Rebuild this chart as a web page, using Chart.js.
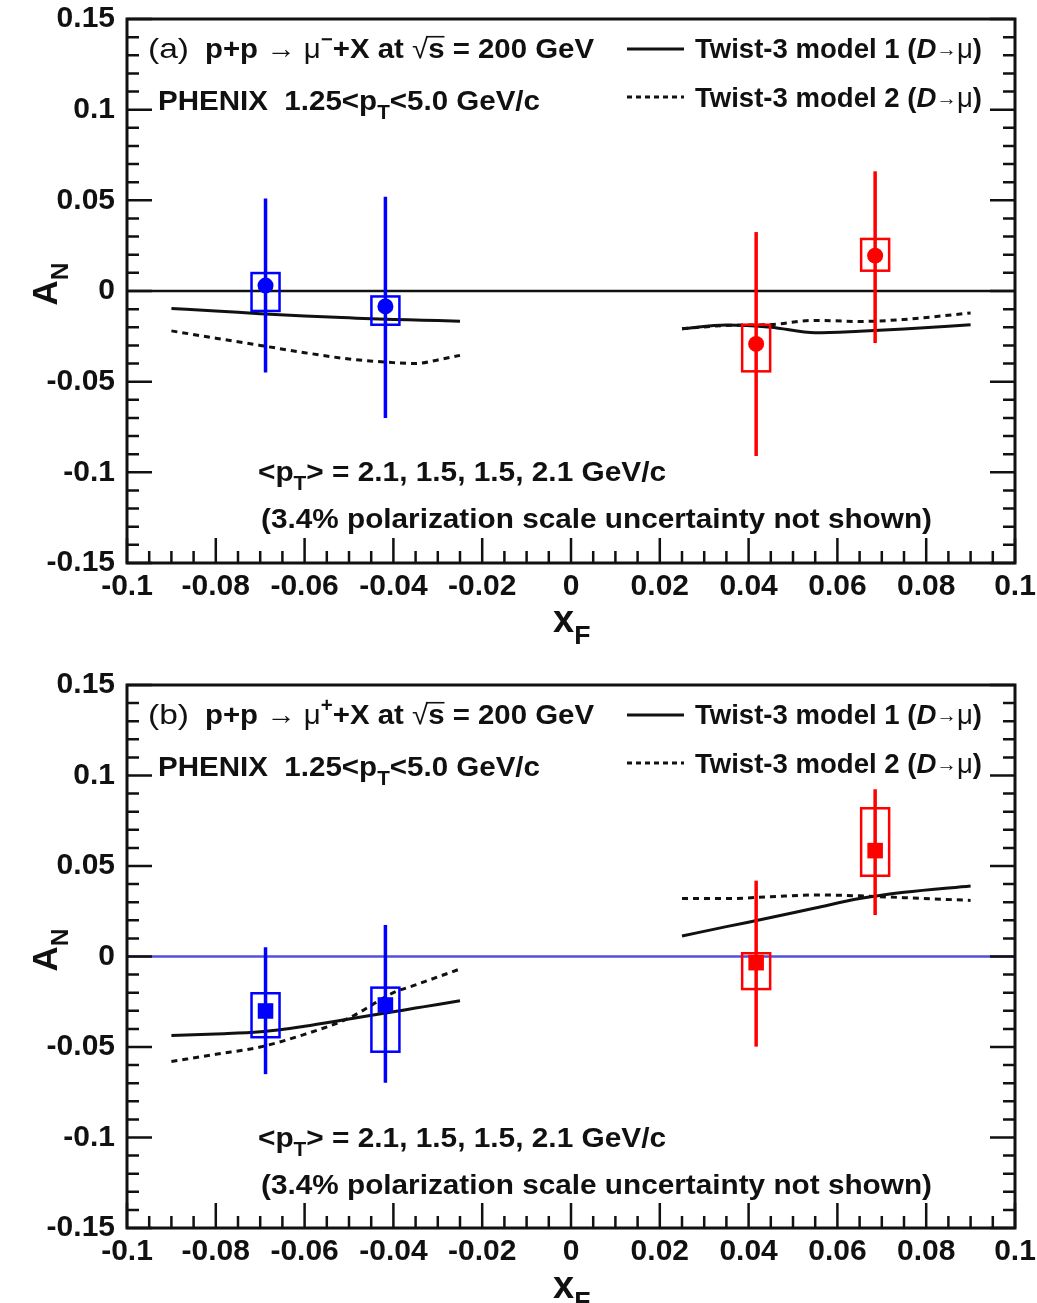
<!DOCTYPE html>
<html>
<head>
<meta charset="utf-8">
<script src="https://cdn.jsdelivr.net/npm/chart.js@4/dist/chart.umd.min.js"></script>
<style>
  body { margin: 0; background: #fff; }
  .panel { position: absolute; left: 0; width: 1037px; }
</style>
</head>
<body>
<div class="panel" style="top:0;height:650px"><canvas id="chartA"></canvas></div>
<div class="panel" style="top:650px;height:653px"><canvas id="chartB"></canvas></div>
<script>
// x_F of the four measured points (two backward, two forward)
const pointX = [-0.0688, -0.0418, 0.0417, 0.0685];
const pointColors = ['#0000ff', '#0000ff', '#ff0000', '#ff0000'];

// panel (a): p+p -> mu- + X
const aValues   = [0.003, -0.0085, -0.0292, 0.0195];
const aStatLow  = [-0.045, -0.070, -0.091, -0.0287];
const aStatHigh = [0.051, 0.052, 0.0325, 0.066];
const aSysLow   = [-0.011, -0.0186, -0.0443, 0.0112];
const aSysHigh  = [0.0099, -0.003, -0.0186, 0.0287];

// panel (b): p+p -> mu+ + X
const bValues   = [-0.0301, -0.0268, -0.0034, 0.0585];
const bStatLow  = [-0.065, -0.0697, -0.0498, 0.0229];
const bStatHigh = [0.0051, 0.0174, 0.0419, 0.0924];
const bSysLow   = [-0.0446, -0.0526, -0.018, 0.0446];
const bSysHigh  = [-0.0203, -0.0172, 0.0018, 0.0819];

// twist-3 model curves
const modelXLeft  = [-0.09, -0.08, -0.07, -0.06, -0.05, -0.04, -0.035, -0.03, -0.025];
const modelXRight = [0.025, 0.035, 0.045, 0.055, 0.065, 0.075, 0.09];

const aModel1Left  = [-0.0097, -0.011, -0.0125, -0.0138, -0.0148, -0.0157, -0.016, -0.0163, -0.0167];
const aModel2Left  = [-0.022, -0.026, -0.030, -0.034, -0.0375, -0.0395, -0.040, -0.038, -0.0355];
const aModel1Right = [-0.0208, -0.0188, -0.020, -0.023, -0.0222, -0.021, -0.0186];
const aModel2Right = [-0.0208, -0.019, -0.0185, -0.0162, -0.0168, -0.0157, -0.0121];

const bModel1Left  = [-0.0437, -0.0428, -0.0416, -0.0385, -0.0345, -0.0305, -0.0285, -0.0265, -0.0244];
const bModel2Left  = [-0.058, -0.054, -0.050, -0.043, -0.034, -0.020, -0.0157, -0.0113, -0.0069];
const bModel1Right = [0.0113, 0.0165, 0.0215, 0.0268, 0.032, 0.0355, 0.039];
const bModel2Right = [0.032, 0.032, 0.033, 0.034, 0.0335, 0.0325, 0.031];

const FONT = '"Liberation Sans", Arial, sans-serif';

function xy(xs, ys) {
    return xs.map((x, i) => ({ x: x, y: ys[i] }));
}

function fontFor(p, size) {
    let s = size * (p.sub || p.sup ? 0.7 : (p.scale || 1));
    return (p.it ? 'italic ' : '') + (p.w || 'bold') + ' ' + s + 'px ' + FONT;
}

// draws a line of text built from parts (sub/superscripts), squeezed to a given width
function drawRich(ctx, item, ox, oy) {
    let size = item.size;
    let total = 0;
    let widths = item.parts.map(p => {
        ctx.font = fontFor(p, size);
        let w = ctx.measureText(p.t).width;
        total += w;
        return w;
    });
    let sx = item.width ? item.width / total : 1;
    ctx.save();
    ctx.translate(ox, oy);
    if (item.rotate) ctx.rotate(item.rotate);
    ctx.scale(sx, 1);
    ctx.fillStyle = '#111';
    ctx.strokeStyle = '#111';
    ctx.textAlign = 'left';
    ctx.textBaseline = 'alphabetic';
    let x = item.center ? -total / 2 : 0;
    item.parts.forEach((p, i) => {
        ctx.font = fontFor(p, size);
        let y = p.raise ? -size * p.raise : 0;
        if (p.sub) y = size * 0.32;
        if (p.sup) y = -size * 0.42;
        ctx.fillText(p.t, x, y);
        if (p.over) {
            ctx.lineWidth = 1.6;
            ctx.beginPath();
            ctx.moveTo(x - 2, -size * 0.76);
            ctx.lineTo(x + widths[i], -size * 0.76);
            ctx.stroke();
        }
        x += widths[i];
    });
    ctx.restore();
}

function panelLabels(tag, charge) {
    // dy is measured from the top of the plot frame
    const model = n => [{ t: 'Twist-3 model ' + n + ' (' }, { t: 'D', it: true },
                        { t: '\u2192', w: 'normal', scale: 0.75, raise: 0.08 }, { t: '\u03bc', w: 'normal' }, { t: ')' }];
    return [
        { parts: [{ t: '(' + tag + ')', w: 'normal' }], x: 148, dy: 39, size: 28, width: 41 },
        { parts: [{ t: 'p+p ' }, { t: '\u2192', w: 'normal' }, { t: ' \u03bc', w: 'normal' }, { t: charge, sup: true },
                  { t: '+X at ' }, { t: '\u221a', w: 'normal' }, { t: 's', over: true }, { t: ' = 200 GeV' }],
          x: 205, dy: 39, size: 28, width: 389 },
        { parts: [{ t: 'PHENIX  1.25<p' }, { t: 'T', sub: true }, { t: '<5.0 GeV/c' }], x: 158, dy: 91, size: 28, width: 382 },
        { parts: model(1), x: 695, dy: 39, size: 27, width: 287 },
        { parts: model(2), x: 695, dy: 88, size: 27, width: 287 },
        { parts: [{ t: '<p' }, { t: 'T', sub: true }, { t: '> = 2.1, 1.5, 1.5, 2.1 GeV/c' }], x: 258, dy: 462, size: 28, width: 408 },
        { parts: [{ t: '(3.4% polarization scale uncertainty not shown)' }], x: 261, dy: 509, size: 28, width: 671 },
        { parts: [{ t: 'x' }, { t: 'F', sub: true }], x: 553, dy: 613, size: 38 },
        { parts: [{ t: 'A' }, { t: 'N', sub: true }], x: 57, dy: 265, size: 35, rotate: -Math.PI / 2, center: true }
    ];
}

// ROOT-like frame: inward ticks, error bars, systematic boxes, texts
const rootStyle = {
    id: 'rootStyle',
    afterDatasetsDraw(chart) {
        const ctx = chart.ctx;
        const xs = chart.scales.x, ys = chart.scales.y;
        const cfg = chart.options.plugins.rootStyle;
        ctx.save();
        cfg.values.forEach((v, i) => {
            let px = xs.getPixelForValue(pointX[i]);
            ctx.strokeStyle = pointColors[i];
            // systematic box
            ctx.lineWidth = 2.5;
            let top = ys.getPixelForValue(cfg.sysHigh[i]);
            let bot = ys.getPixelForValue(cfg.sysLow[i]);
            ctx.strokeRect(px - 14, top, 28, bot - top);
            // statistical bar
            ctx.lineWidth = 3.5;
            ctx.beginPath();
            ctx.moveTo(px, ys.getPixelForValue(cfg.statHigh[i]));
            ctx.lineTo(px, ys.getPixelForValue(cfg.statLow[i]));
            ctx.stroke();
        });
        ctx.restore();
    },
    afterDraw(chart) {
        const ctx = chart.ctx;
        const xs = chart.scales.x, ys = chart.scales.y;
        const { left, right, top, bottom } = chart.chartArea;
        const cfg = chart.options.plugins.rootStyle;
        ctx.save();
        ctx.strokeStyle = '#111';
        ctx.lineWidth = 2.5;
        ctx.beginPath();
        for (let k = 0; k <= 40; k++) {
            let px = xs.getPixelForValue(-0.1 + k * 0.005);
            let len = k % 4 === 0 ? 25 : 12;
            ctx.moveTo(px, bottom);
            ctx.lineTo(px, bottom - len);
        }
        for (let k = 0; k <= 30; k++) {
            let py = ys.getPixelForValue(-0.15 + k * 0.01);
            let len = k % 5 === 0 ? 25 : 12;
            ctx.moveTo(left, py);
            ctx.lineTo(left + len, py);
            ctx.moveTo(right, py);
            ctx.lineTo(right - len, py);
        }
        ctx.stroke();
        ctx.lineWidth = 3;
        ctx.strokeRect(left, top, right - left, bottom - top);

        // legend line samples
        ctx.lineWidth = 3;
        ctx.beginPath();
        ctx.moveTo(627, top + 30);
        ctx.lineTo(684, top + 30);
        ctx.stroke();
        ctx.setLineDash([5, 4]);
        ctx.beginPath();
        ctx.moveTo(627, top + 78);
        ctx.lineTo(684, top + 78);
        ctx.stroke();
        ctx.setLineDash([]);

        cfg.labels.forEach(item => drawRich(ctx, item, item.x, top + item.dy));
        ctx.restore();
    }
};

function buildChart(id, opts) {
    const tickFont = { family: FONT, size: 30, weight: 'bold' };
    const curve = (xsArr, ysArr, dashed) => ({
        type: 'line',
        data: xy(xsArr, ysArr),
        borderColor: '#111',
        borderWidth: 3,
        borderDash: dashed ? [6, 5] : [],
        pointRadius: 0,
        cubicInterpolationMode: 'monotone',
        order: 3
    });
    return new Chart(document.getElementById(id), {
        type: 'scatter',
        data: {
            datasets: [
                {
                    type: 'line',
                    data: [{ x: -0.1, y: 0 }, { x: 0.1, y: 0 }],
                    borderColor: opts.zeroColor,
                    borderWidth: 2.5,
                    pointRadius: 0,
                    order: 4
                },
                curve(modelXLeft, opts.m1L, false),
                curve(modelXRight, opts.m1R, false),
                curve(modelXLeft, opts.m2L, true),
                curve(modelXRight, opts.m2R, true),
                {
                    data: xy(pointX, opts.values),
                    pointStyle: opts.marker,
                    pointRadius: opts.markerRadius,
                    pointBackgroundColor: pointColors,
                    pointBorderWidth: 0,
                    order: 1
                }
            ]
        },
        options: {
            responsive: true,
            maintainAspectRatio: false,
            animation: false,
            events: [],
            layout: { padding: { left: 0, right: 22, top: opts.top, bottom: 0 } },
            plugins: {
                legend: { display: false },
                tooltip: { enabled: false },
                rootStyle: {
                    values: opts.values, statLow: opts.statLow, statHigh: opts.statHigh,
                    sysLow: opts.sysLow, sysHigh: opts.sysHigh, labels: opts.labels
                }
            },
            scales: {
                x: {
                    type: 'linear', min: -0.1, max: 0.1,
                    afterFit: s => { s.height = opts.xAxisHeight; s.paddingLeft = 0; s.paddingRight = 0; },
                    grid: { display: false, drawTicks: false },
                    border: { display: false },
                    ticks: {
                        stepSize: 0.02, autoSkip: false, maxRotation: 0, padding: 6,
                        color: '#111', font: tickFont,
                        callback: v => String(+v.toFixed(3))
                    }
                },
                y: {
                    type: 'linear', min: -0.15, max: 0.15,
                    afterFit: s => { s.width = 127; s.paddingTop = 0; s.paddingBottom = 0; },
                    grid: { display: false, drawTicks: false },
                    border: { display: false },
                    ticks: {
                        stepSize: 0.05, autoSkip: false, padding: 12,
                        color: '#111', font: tickFont,
                        callback: v => String(+v.toFixed(3))
                    }
                }
            }
        },
        plugins: [rootStyle]
    });
}

buildChart('chartA', {
    top: 19, xAxisHeight: 87, zeroColor: '#111',
    values: aValues, statLow: aStatLow, statHigh: aStatHigh, sysLow: aSysLow, sysHigh: aSysHigh,
    m1L: aModel1Left, m1R: aModel1Right, m2L: aModel2Left, m2R: aModel2Right,
    marker: 'circle', markerRadius: 8,
    labels: panelLabels('a', '\u2212')
});

buildChart('chartB', {
    top: 35, xAxisHeight: 75, zeroColor: '#5050d8',
    values: bValues, statLow: bStatLow, statHigh: bStatHigh, sysLow: bSysLow, sysHigh: bSysHigh,
    m1L: bModel1Left, m1R: bModel1Right, m2L: bModel2Left, m2R: bModel2Right,
    marker: 'rect', markerRadius: 11,
    labels: panelLabels('b', '+')
});
</script>
</body>
</html>
